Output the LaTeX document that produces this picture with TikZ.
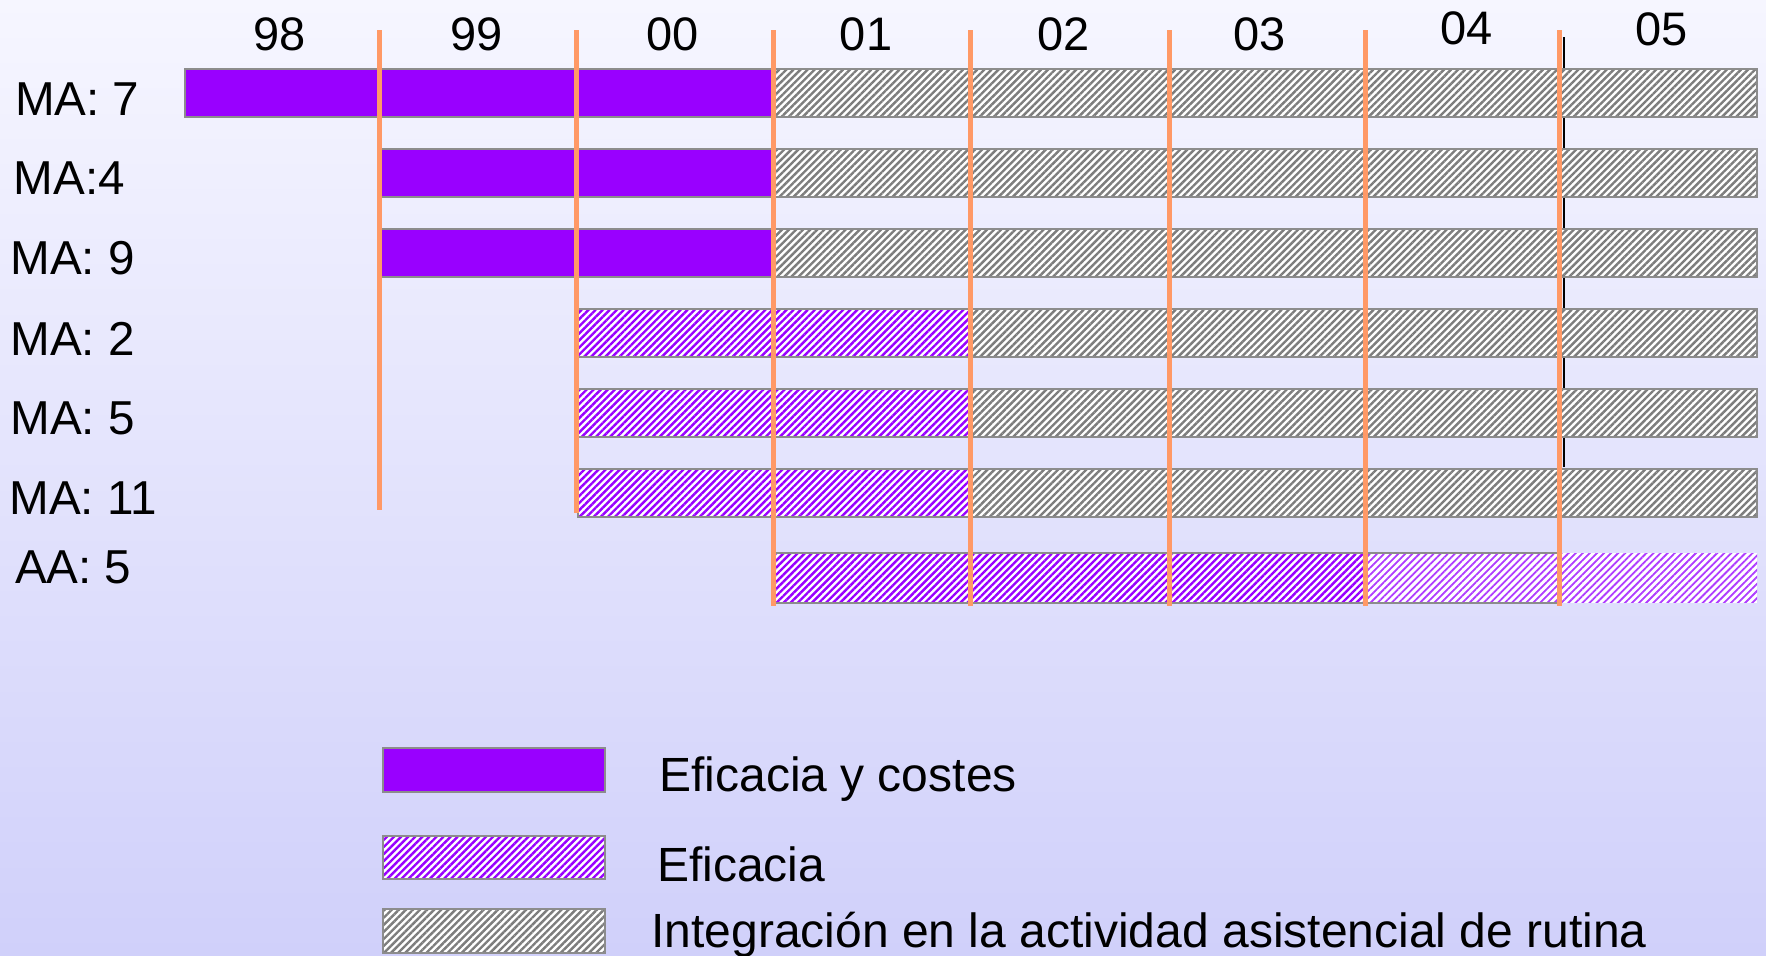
\documentclass[tikz,border=0pt]{standalone}
\usepackage{fontspec}
\setmainfont{Liberation Sans}
\usetikzlibrary{patterns.meta}
\definecolor{bgtop}{RGB}{246,246,255}
\definecolor{bgbot}{RGB}{208,208,250}
\definecolor{purp}{RGB}{153,0,255}
\definecolor{lpurp}{RGB}{175,60,255}
\definecolor{orng}{RGB}{255,153,102}
\definecolor{bord}{RGB}{140,140,140}
\definecolor{hgray}{RGB}{125,125,125}
\tikzset{
  solidbar/.style={fill=purp, draw=bord, line width=1pt},
  grayhatch/.style={preaction={fill=white}, pattern={Lines[angle=45,distance=2.5pt,line width=1.2pt]}, pattern color=hgray},
  purphatch/.style={preaction={fill=white}, pattern={Lines[angle=45,distance=2.5pt,line width=1.2pt]}, pattern color=purp},
  lighthatch/.style={preaction={fill=white}, pattern={Lines[angle=45,distance=2.5pt,line width=0.9pt]}, pattern color=lpurp},
  barborder/.style={draw=bord, line width=1pt},
  yearline/.style={draw=orng, line width=2.5pt},
  lab/.style={inner sep=0pt, anchor=base west, font=\fontsize{23.8}{28}\selectfont},
  yr/.style={inner sep=0pt, anchor=base, font=\fontsize{23.5}{28}\selectfont},
  leg/.style={inner sep=0pt, anchor=base west, font=\fontsize{24}{28}\selectfont},
}
\begin{document}
\begin{tikzpicture}[x=0.5pt, y=-0.5pt]
\useasboundingbox (0,0) rectangle (1766,955);
\shade[top color=bgtop, bottom color=bgbot] (0,0) rectangle (1766,955);

% black line behind
\draw[black, line width=1pt] (1564,37) -- (1564,467);

% row 1: MA 7
\path[solidbar] (184.7,68.7) rectangle (773.8,117.1);
\path[grayhatch, barborder] (773.8,68.7) rectangle (1757,117.1);
% row 2: MA 4
\path[solidbar] (381,148.7) rectangle (773.8,197.1);
\path[grayhatch, barborder] (773.8,148.7) rectangle (1757,197.1);
% row 3: MA 9
\path[solidbar] (381,228.6) rectangle (773.8,277);
\path[grayhatch, barborder] (773.8,228.6) rectangle (1757,277);
% row 4: MA 2
\path[purphatch, barborder] (577.5,308.6) rectangle (970.9,357);
\path[grayhatch, barborder] (970.9,308.6) rectangle (1757,357);
% row 5: MA 5
\path[purphatch, barborder] (577.5,388.6) rectangle (970.9,437);
\path[grayhatch, barborder] (970.9,388.6) rectangle (1757,437);
% row 6: MA 11
\path[purphatch, barborder] (577.5,468.5) rectangle (970.9,517);
\path[grayhatch, barborder] (970.9,468.5) rectangle (1757,517);
% row 7: AA 5
\path[purphatch] (774.5,553) rectangle (1365.1,602.6);
\path[lighthatch] (1365.1,553) rectangle (1757,602.6);
\draw[barborder] (774.5,553) rectangle (1559.9,602.6);

% year separators
\draw[yearline] (379.6,30.4) -- (379.6,510);
\draw[yearline] (576.7,30.4) -- (576.7,512.5);
\draw[yearline] (773.8,30.4) -- (773.8,606);
\draw[yearline] (970.9,30.4) -- (970.9,606);
\draw[yearline] (1169.1,30.4) -- (1169.1,606);
\draw[yearline] (1365.1,30.4) -- (1365.1,606);
\draw[yearline] (1559.9,30.4) -- (1559.9,606);

% years
\node[yr] (y98) at (279.3,50.5) {98};
\node[yr] (y99) at (476.4,50.5) {99};
\node[yr] (y00) at (672.4,50.5) {00};
\node[yr] (y01) at (866.1,50.5) {01};
\node[yr] (y02) at (1063.2,50.5) {02};
\node[yr] (y03) at (1259.2,50.5) {03};
\node[yr] (y04) at (1466.4,44) {04};
\node[yr] (y05) at (1661.3,45) {05};

% row labels
\node[lab] (l1) at (14.6,115) {MA: 7};
\node[lab] (l2) at (13.5,194) {MA:4};
\node[lab] (l3) at (10,274) {MA: 9};
\node[lab] (l4) at (10,355) {MA: 2};
\node[lab] (l5) at (10,434) {MA: 5};
\node[lab] (l6) at (9,514) {MA: 11};
\node[lab] (l7) at (14.6,583.5) {AA: 5};

% legend
\path[solidbar] (383,747.9) rectangle (604.8,791.8);
\path[purphatch, barborder] (383,835.7) rectangle (604.8,878.5);
\path[grayhatch, barborder] (383,908.9) rectangle (604.8,952.9);
\node[leg] (t1) at (658.9,791) {Eficacia y costes};
\node[leg] (t2) at (656.6,881) {Eficacia};
\node[leg] (t3) at (651,947.5) {Integración en la actividad asistencial de rutina};
\end{tikzpicture}
\end{document}
